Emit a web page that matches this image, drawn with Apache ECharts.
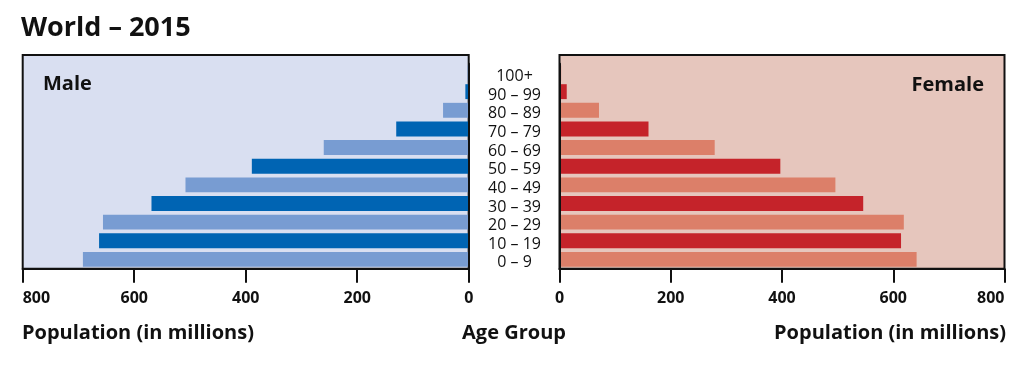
<!DOCTYPE html>
<html>
<head>
<meta charset="utf-8">
<script src="https://cdn.jsdelivr.net/npm/echarts@6/dist/echarts.min.js"></script>
<style>
html,body{margin:0;padding:0;background:#fff;}
#chart{width:1024px;height:371px;}
</style>
</head>
<body>
<div id="chart"></div>
<script>
// ---- data ----
const ageGroups = ['0 – 9','10 – 19','20 – 29','30 – 39','40 – 49','50 – 59','60 – 69','70 – 79','80 – 89','90 – 99','100+'];
const maleValues = [692, 663, 656, 569, 508, 389, 260, 130, 46, 6, 2];
const femaleValues = [642, 614, 619, 546, 496, 397, 279, 160, 71, 13, 3];
const popTicks = [0, 200, 400, 600, 800];
const chartTitle = 'World – 2015';
const leftLabel = 'Male';
const rightLabel = 'Female';
const xTitle = 'Population (in millions)';
const midTitle = 'Age Group';

// ---- style ----
const FONT = '"Open Sans"';
const INK = '#111111';
const maleBg = '#d9dff1', maleLight = '#789cd2', maleDark = '#0064b3';
const femaleBg = '#e6c6bd', femaleLight = '#dc7f69', femaleDark = '#c5232a';

const chart = echarts.init(document.getElementById('chart'), null, {renderer: 'canvas'});

const valueAxisCommon = (gridIndex, inverse, alignMax) => ({
  type: 'value', gridIndex, inverse, min: popTicks[0], max: popTicks[popTicks.length - 1],
  interval: popTicks[1] - popTicks[0], z: 5,
  axisLine: {show: true, lineStyle: {color: INK, width: 2}},
  axisTick: {show: true, inside: false, length: 14, lineStyle: {color: INK, width: 2}},
  axisLabel: {fontFamily: FONT, fontSize: 16, fontWeight: 'bold', color: INK, margin: 22, alignMaxLabel: alignMax},
  splitLine: {show: false}
});

const ttl = (text, pos, size, weight) => Object.assign({
  text, padding: 0,
  textStyle: {fontFamily: FONT, fontSize: size, fontWeight: weight, color: INK}
}, pos);

const option = {
  animation: false,
  backgroundColor: '#ffffff',
  title: [
    ttl(chartTitle, {left: 21, top: 15}, 27, 'bold'),
    ttl(leftLabel, {left: 43, top: 74}, 20, 'bold'),
    ttl(rightLabel, {right: 40, top: 75}, 20, 'bold'),
    ttl(xTitle, {left: 22, top: 323}, 20, 'bold'),
    ttl(midTitle, {left: 514, textAlign: 'center', top: 323}, 20, 'bold'),
    ttl(xTitle, {right: 18, top: 323}, 20, 'bold')
  ],
  grid: [
    {left: 22.7, top: 55, width: 446, height: 213.7, show: true, backgroundColor: maleBg, borderColor: INK, borderWidth: 2, z: 0},
    {left: 559.5, top: 55, width: 445, height: 213.7, show: true, backgroundColor: femaleBg, borderColor: INK, borderWidth: 2, z: 0},
    {left: 22.7, top: 63.7, width: 446, height: 205},
    {left: 559.5, top: 63.7, width: 445, height: 205}
  ],
  xAxis: [
    {type: 'value', gridIndex: 0, show: false, min: 0, max: 1},
    {type: 'value', gridIndex: 1, show: false, min: 0, max: 1},
    valueAxisCommon(2, true, 'left'),
    valueAxisCommon(3, false, 'right')
  ],
  yAxis: [
    {type: 'value', gridIndex: 0, show: false, min: 0, max: 1},
    {type: 'value', gridIndex: 1, show: false, min: 0, max: 1},
    {type: 'category', gridIndex: 2, data: ageGroups, position: 'right', z: 5,
      axisLine: {show: true, lineStyle: {color: INK, width: 2}}, axisTick: {show: false}, axisLabel: {show: false}},
    {type: 'category', gridIndex: 3, data: ageGroups, position: 'left', z: 5,
      axisLine: {show: true, lineStyle: {color: INK, width: 2}}, axisTick: {show: false},
      axisLabel: {show: true, interval: 0, align: 'center', verticalAlign: 'top', lineHeight: 7, margin: 45,
        fontFamily: FONT, fontSize: 16, color: INK}}
  ],
  series: [
    {type: 'bar', xAxisIndex: 2, yAxisIndex: 2, data: maleValues, barWidth: '80%',
      itemStyle: {color: p => (p.dataIndex % 2 === 0 ? maleLight : maleDark)}},
    {type: 'bar', xAxisIndex: 3, yAxisIndex: 3, data: femaleValues, barWidth: '80%',
      itemStyle: {color: p => (p.dataIndex % 2 === 0 ? femaleLight : femaleDark)}}
  ]
};
chart.setOption(option);
</script>
</body>
</html>
